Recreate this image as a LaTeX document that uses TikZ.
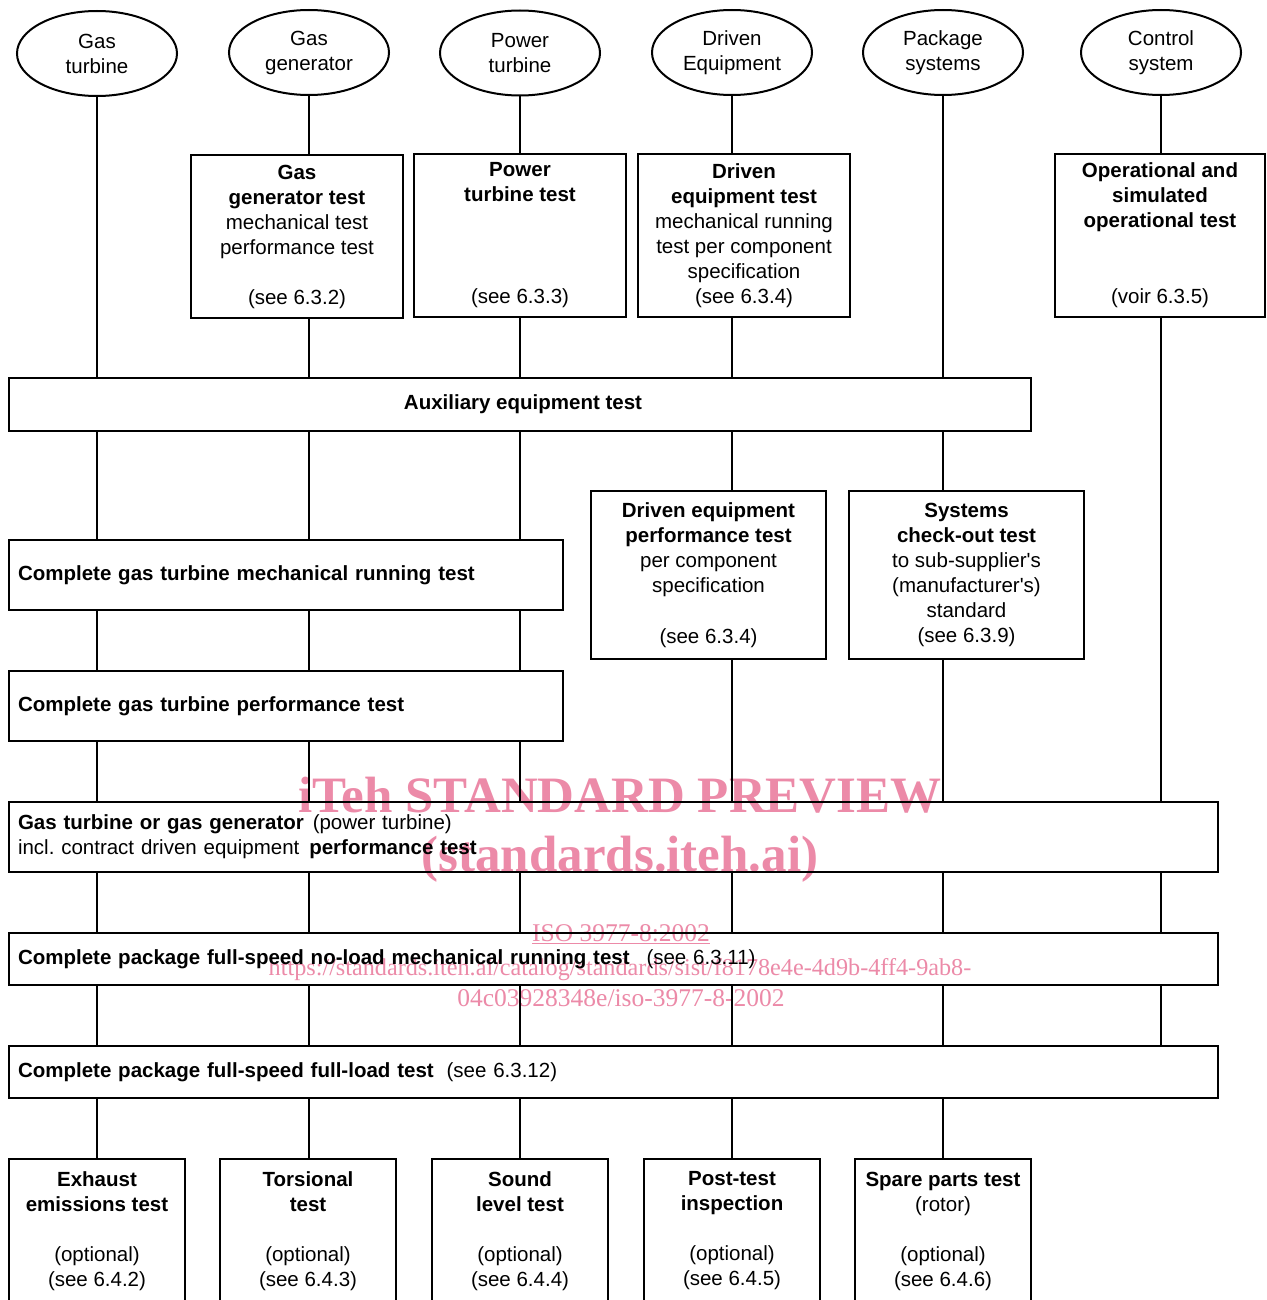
\documentclass[tikz,border=0pt]{standalone}
\usepackage{fontspec}
\setmainfont{Liberation Sans}[Ligatures=TeXOff]
\newfontfamily\wmfont{Liberation Serif}
\usetikzlibrary{shapes.geometric}
\definecolor{wmcol}{RGB}{236,138,168}
\frenchspacing
\begin{document}
\begin{tikzpicture}[x=1pt,y=-1pt,
  every node/.style={font=\fontsize{20.5}{25}\selectfont, inner sep=0pt, outer sep=0pt},
  ell/.style={ellipse, draw, line width=2pt, minimum width=160pt, minimum height=85pt, align=center},
  tbox/.style={draw, line width=2.2pt, align=center, minimum height=163pt},
  wbox/.style={draw, line width=2.2pt, align=left, inner xsep=9pt},
  bbox/.style={draw, line width=2.2pt, align=center, minimum width=176pt, minimum height=144pt},
  conn/.style={line width=1.6pt},
  wmbig/.style={text=wmcol, font=\wmfont\bfseries\fontsize{51}{56}\selectfont, anchor=base},
  wmsmall/.style={text=wmcol, font=\wmfont\fontsize{25.5}{30}\selectfont, anchor=base}
]
\useasboundingbox (0,0) rectangle (1266,1300);
\fill[white] (0,0) rectangle (1266,1300);

% watermark (behind)
\node[wmbig] (wm1) at (620,812) {iTeh STANDARD PREVIEW};
\node[wmbig] (wm2) at (620,871) {(standards.iteh.ai)};
\node[wmsmall] (wm3) at (621,941) {\underline{ISO 3977-8:2002}};
\node[wmsmall, font=\wmfont\fontsize{24.2}{30}\selectfont] (wm4) at (620,975) {https://standards.iteh.ai/catalog/standards/sist/f8178e4e-4d9b-4ff4-9ab8-};
\node[wmsmall] (wm5) at (621,1006) {04c03928348e/iso-3977-8-2002};

% ellipses
\node[ell] (e1) at (97,53.5) {Gas\\turbine};
\node[ell] (e2) at (309,52.5) {Gas\\generator};
\node[ell] (e3) at (520,53) {Power\\turbine};
\node[ell] (e4) at (732,52.5) {Driven\\Equipment};
\node[ell] (e5) at (943,52.5) {Package\\systems};
\node[ell] (e6) at (1161,52.5) {Control\\system};

% second row
\node[tbox, minimum width=212pt] (gg) at (297,236.5) {\textbf{Gas}\\\textbf{generator test}\\mechanical test\\performance test\\[25pt](see 6.3.2)};
\node[tbox, minimum width=212pt] (pt) at (520,235.5) {\textbf{Power}\\\textbf{turbine test}\\[77pt](see 6.3.3)};
\node[tbox, minimum width=212pt] (de) at (744,235.5) {\textbf{Driven}\\\textbf{equipment test}\\mechanical running\\test per component\\specification\\(see 6.3.4)};
\node[tbox, minimum width=210pt] (op) at (1160,235.5) {\textbf{Operational and}\\\textbf{simulated}\\\textbf{operational test}\\[51pt](voir 6.3.5)};

% auxiliary
\node[draw, line width=2.2pt, minimum width=1022pt, minimum height=53pt] (aux) at (520,404.5) {\hspace{6pt}\textbf{Auxiliary equipment test}};

% middle
\node[wbox, text width=536pt, minimum height=70pt] (mech) at (286,575) {\textbf{Complete gas turbine mechanical running test}};
\node[tbox, minimum width=235pt, minimum height=168pt] (dp) at (708.5,575) {\textbf{Driven equipment}\\\textbf{performance test}\\per component\\specification\\[26pt](see 6.3.4)};
\node[tbox, minimum width=235pt, minimum height=168pt] (sc) at (966.5,575) {\textbf{Systems}\\\textbf{check-out test}\\to sub-supplier's\\(manufacturer's)\\standard\\(see 6.3.9)};
\node[wbox, text width=536pt, minimum height=70pt] (perf) at (286,706) {\textbf{Complete gas turbine performance test}};

\node[wbox, text width=1191pt, minimum height=70pt] (gtp) at (613.5,837) {\textbf{Gas turbine or gas generator}\hspace{2pt} (power turbine)\\incl. contract driven equipment\hspace{3pt} \textbf{performance test}};
\node[wbox, text width=1191pt, minimum height=52pt] (nl) at (613.5,959) {\textbf{Complete package full-speed no-load mechanical running test}\hspace{10pt} (see 6.3.11)};
\node[wbox, text width=1191pt, minimum height=52pt] (fl) at (613.5,1072) {\textbf{Complete package full-speed full-load test}\hspace{6pt} (see 6.3.12)};

% bottom row
\node[bbox] (b1) at (97,1231) {\textbf{Exhaust}\\\textbf{emissions test}\\[25pt](optional)\\(see 6.4.2)};
\node[bbox] (b2) at (308,1231) {\textbf{Torsional}\\\textbf{test}\\[25pt](optional)\\(see 6.4.3)};
\node[bbox] (b3) at (520,1231) {\textbf{Sound}\\\textbf{level test}\\[25pt](optional)\\(see 6.4.4)};
\node[bbox] (b4) at (732,1231) {\textbf{Post-test}\\\textbf{inspection}\\[25pt](optional)\\(see 6.4.5)};
\node[bbox] (b5) at (943,1231) {\textbf{Spare parts test}\\(rotor)\\[25pt](optional)\\(see 6.4.6)};

% connectors: column 1
\draw[conn] (e1.south) -- (e1.south |- aux.north);
% column 2
\draw[conn] (e2.south) -- (e2.south |- gg.north);
\draw[conn] (gg.south -| e2.south) -- (e2.south |- aux.north);
% column 3
\draw[conn] (e3.south) -- (e3.south |- pt.north);
\draw[conn] (pt.south -| e3.south) -- (e3.south |- aux.north);
% columns 1-3 below auxiliary
\foreach \e in {e1,e2,e3} {
  \draw[conn] (aux.south -| \e.south) -- (mech.north -| \e.south);
  \draw[conn] (mech.south -| \e.south) -- (perf.north -| \e.south);
  \draw[conn] (perf.south -| \e.south) -- (gtp.north -| \e.south);
}
% column 4
\draw[conn] (e4.south) -- (e4.south |- de.north);
\draw[conn] (de.south -| e4.south) -- (e4.south |- aux.north);
\draw[conn] (aux.south -| e4.south) -- (dp.north -| e4.south);
\draw[conn] (dp.south -| e4.south) -- (gtp.north -| e4.south);
% column 5
\draw[conn] (e5.south) -- (e5.south |- aux.north);
\draw[conn] (aux.south -| e5.south) -- (sc.north -| e5.south);
\draw[conn] (sc.south -| e5.south) -- (gtp.north -| e5.south);
% column 6
\draw[conn] (e6.south) -- (e6.south |- op.north);
\draw[conn] (op.south -| e6.south) -- (gtp.north -| e6.south);
% lower rows
\foreach \e in {e1,e2,e3,e4,e5,e6} {
  \draw[conn] (gtp.south -| \e.south) -- (nl.north -| \e.south);
  \draw[conn] (nl.south -| \e.south) -- (fl.north -| \e.south);
}
\foreach \e/\b in {e1/b1,e2/b2,e3/b3,e4/b4,e5/b5} {
  \draw[conn] (fl.south -| \e.south) -- (\b.north -| \e.south);
}
\end{tikzpicture}
\end{document}
